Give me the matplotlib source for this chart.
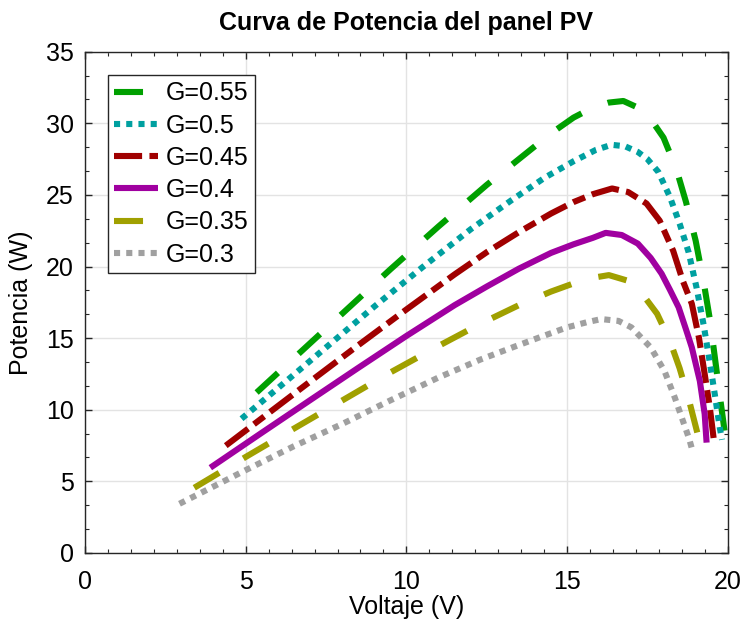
"""
Curva de Potencia del panel PV: potencia vs voltaje para varios niveles de irradiancia G.
"""

import matplotlib
matplotlib.use("Agg")
import matplotlib.pyplot as plt
from matplotlib.ticker import MultipleLocator, AutoMinorLocator


# Curvas (voltaje en V, potencia en W)
v_055 = [5.34, 6.5, 8.0, 9.5, 11.0, 12.5, 13.5, 14.5, 15.2, 15.8, 16.3, 16.75, 17.2, 17.6, 18.0, 18.4, 18.7, 19.0, 19.25, 19.45, 19.6, 19.75, 19.9]
p_055 = [11.2, 13.6, 16.7, 19.8, 22.8, 25.7, 27.5, 29.3, 30.4, 31.1, 31.45, 31.56, 31.1, 30.3, 29.0, 26.8, 24.5, 21.8, 18.9, 16.2, 13.6, 11.0, 8.5]

v_050 = [4.87, 6.0, 7.5, 9.0, 10.5, 12.0, 13.25, 14.3, 15.2, 15.9, 16.38, 16.8, 17.2, 17.5, 17.84, 18.2, 18.5, 18.78, 19.03, 19.25, 19.44, 19.6, 19.75, 19.82]
p_050 = [9.37, 11.5, 14.35, 17.2, 19.95, 22.6, 24.6, 26.2, 27.35, 28.15, 28.5, 28.4, 28.0, 27.5, 26.6, 24.85, 23.0, 21.0, 18.5, 15.9, 13.3, 11.0, 8.75, 7.9]

v_045 = [4.38, 5.5, 7.0, 8.5, 10.0, 11.5, 12.5, 13.5, 14.5, 15.2, 15.8, 16.4, 16.9, 17.47, 17.88, 18.3, 18.6, 18.88, 19.1, 19.28, 19.44, 19.56]
p_045 = [7.49, 9.4, 11.96, 14.5, 17.0, 19.45, 21.0, 22.4, 23.7, 24.5, 25.05, 25.45, 25.2, 24.4, 23.2, 21.1, 19.0, 17.4, 15.05, 12.5, 10.15, 7.98]

v_040 = [3.9, 5.5, 7.0, 8.5, 10.0, 11.5, 12.5, 13.5, 14.5, 15.2, 15.8, 16.2, 16.7, 17.2, 17.6, 17.94, 18.2, 18.47, 18.7, 18.88, 19.13, 19.28, 19.34]
p_040 = [5.95, 8.39, 10.66, 12.92, 15.15, 17.3, 18.6, 19.85, 20.95, 21.55, 22.0, 22.35, 22.2, 21.6, 20.6, 19.5, 18.37, 17.15, 15.6, 14.35, 12.0, 9.7, 7.7]

v_035 = [3.4, 5.0, 6.5, 8.0, 9.5, 11.0, 12.3, 13.5, 14.5, 15.3, 15.9, 16.3, 16.9, 17.4, 17.8, 18.2, 18.5, 18.8, 19.05]
p_035 = [4.55, 6.7, 8.68, 10.64, 12.6, 14.45, 16.0, 17.3, 18.25, 18.9, 19.25, 19.4, 19.0, 17.9, 16.7, 14.8, 12.9, 10.6, 8.4]

v_030 = [2.94, 5.0, 6.5, 8.0, 9.5, 11.0, 12.3, 13.3, 14.2, 15.0, 15.6, 16.06, 16.6, 17.0, 17.6, 18.03, 18.35, 18.6, 18.8, 18.88]
p_030 = [3.43, 5.78, 7.45, 9.0, 10.65, 12.25, 13.5, 14.35, 15.1, 15.75, 16.1, 16.33, 16.2, 15.75, 14.35, 12.7, 10.85, 9.24, 7.95, 7.3]

etiquetas = ["G=0.55", "G=0.5", "G=0.45", "G=0.4", "G=0.35", "G=0.3"]
colores = ["#00a000", "#00a0a0", "#a00000", "#a000a0", "#a0a000", "#a0a0a0"]
estilos = [(0, (4.75, 4.6)), (0, (1.0, 1.0)), (0, (4.6, 1.2, 2.1, 1.2)),
           "-", (0, (4.75, 4.6)), (0, (1.0, 1.0))]

curvas = [(v_055, p_055), (v_050, p_050), (v_045, p_045),
          (v_040, p_040), (v_035, p_035), (v_030, p_030)]

plt.rcParams["font.family"] = ["Liberation Sans", "DejaVu Sans"]
plt.rcParams["font.size"] = 18

fig = plt.figure(figsize=(7.41, 6.27), dpi=100)
ax = fig.add_axes([0.1147, 0.1182, 0.8675, 0.7993])

for (v, p), lab, col, ls in zip(curvas, etiquetas, colores, estilos):
    ax.plot(v, p, color=col, linestyle=ls, linewidth=4.4, label=lab,
            dash_capstyle="butt", solid_capstyle="butt", solid_joinstyle="round")

ax.set_xlim(0, 20)
ax.set_ylim(0, 35)
ax.xaxis.set_major_locator(MultipleLocator(5))
ax.yaxis.set_major_locator(MultipleLocator(5))
ax.xaxis.set_minor_locator(AutoMinorLocator(7))
ax.yaxis.set_minor_locator(AutoMinorLocator(3))
ax.grid(True, which="major", color="#e3e3e3", linewidth=1)
ax.set_axisbelow(True)

ax.tick_params(which="both", direction="in", top=True, right=True,
               colors="#262626", labelcolor="black")
ax.tick_params(which="major", length=5, width=1)
ax.tick_params(which="minor", length=3, width=0.8)
ax.tick_params(axis="x", which="major", pad=12)
ax.tick_params(axis="y", which="major", pad=8)
for s in ax.spines.values():
    s.set_color("#262626")
    s.set_linewidth(1)

ax.set_title("Curva de Potencia del panel PV", fontweight="bold", fontsize=18, pad=16)
ax.set_xlabel("Voltaje (V)", labelpad=1)
ax.set_ylabel("Potencia (W)", labelpad=9)

leg = ax.legend(loc="upper left", bbox_to_anchor=(0.0358, 0.9535), borderaxespad=0,
                handlelength=1.75, handletextpad=0.3, labelspacing=0.33,
                borderpad=0.25, fancybox=False, framealpha=1, edgecolor="#262626")
leg.get_frame().set_linewidth(1)

plt.savefig("out.png", dpi=100)
